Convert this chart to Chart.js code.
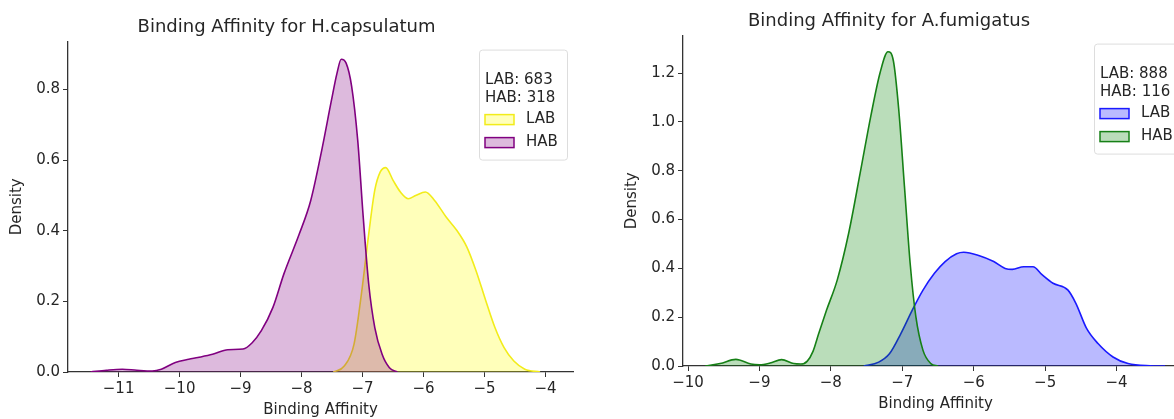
<!DOCTYPE html>
<html>
<head>
<meta charset="utf-8">
<script src="https://cdn.jsdelivr.net/npm/chart.js@4.4.1/dist/chart.umd.min.js"></script>
<style>
html, body {
    margin: 0;
    padding: 0;
    background: #fff;
    overflow: hidden;
    width: 1174px;
    height: 419px;
}
.box {
    position: absolute;
    top: 0;
    height: 419px;
}
#leftBox { left: 0; width: 590px; }
#rightBox { left: 590px; width: 610px; }
</style>
</head>
<body>

<div class="box" id="leftBox"><canvas id="leftChart"></canvas></div>
<div class="box" id="rightBox"><canvas id="rightChart"></canvas></div>

<script>
// ======================
// DATA
// ======================

// H.capsulatum - HAB (purple)
const hcapHabX = [-11.46, -11.2, -10.94, -10.7, -10.45, -10.3, -10.07, -9.85, -9.7, -9.46, -9.21, -8.96, -8.81, -8.66, -8.47, -8.29, -8.04, -7.85, -7.67, -7.51, -7.42, -7.35, -7.27, -7.18, -7.08, -6.99, -6.90, -6.80, -6.68, -6.56, -6.43];
const hcapHabY = [0.0, 0.005, 0.008, 0.005, 0.003, 0.008, 0.027, 0.036, 0.041, 0.05, 0.063, 0.065, 0.083, 0.117, 0.183, 0.278, 0.39, 0.486, 0.628, 0.77, 0.846, 0.886, 0.875, 0.81, 0.657, 0.44, 0.25, 0.126, 0.05, 0.012, 0.0];

// H.capsulatum - LAB (yellow)
const hcapLabX = [-7.48, -7.30, -7.14, -7.02, -6.90, -6.80, -6.71, -6.62, -6.50, -6.38, -6.25, -6.13, -5.97, -5.82, -5.63, -5.45, -5.29, -5.14, -4.98, -4.83, -4.68, -4.52, -4.34, -4.09];
const hcapLabY = [0.0, 0.017, 0.079, 0.22, 0.39, 0.515, 0.567, 0.579, 0.543, 0.51, 0.491, 0.50, 0.51, 0.486, 0.439, 0.40, 0.354, 0.287, 0.202, 0.126, 0.069, 0.031, 0.008, 0.0];

// A.fumigatus - HAB (green)
const afumHabX = [-9.76, -9.55, -9.33, -9.12, -9.0, -8.85, -8.69, -8.52, -8.42, -8.33, -8.25, -8.17, -8.06, -7.91, -7.75, -7.59, -7.44, -7.31, -7.20, -7.125, -7.05, -6.97, -6.89, -6.81, -6.71, -6.60, -6.50];
const afumHabY = [0.0, 0.01, 0.027, 0.008, 0.005, 0.012, 0.026, 0.01, 0.008, 0.02, 0.06, 0.133, 0.229, 0.353, 0.545, 0.79, 1.025, 1.203, 1.288, 1.251, 1.052, 0.737, 0.421, 0.202, 0.064, 0.01, 0.0];

// A.fumigatus - LAB (blue)
const afumLabX = [-7.54, -7.33, -7.18, -7.02, -6.86, -6.71, -6.55, -6.40, -6.24, -6.14, -5.93, -5.72, -5.56, -5.46, -5.30, -5.17, -5.04, -4.89, -4.68, -4.57, -4.42, -4.26, -4.05, -3.84, -3.53, -3.32];
const afumLabY = [0.0, 0.016, 0.05, 0.133, 0.229, 0.311, 0.38, 0.428, 0.46, 0.466, 0.453, 0.428, 0.40, 0.396, 0.407, 0.407, 0.373, 0.339, 0.311, 0.257, 0.154, 0.092, 0.037, 0.01, 0.001, 0.0];

// ticks
const leftXTicks = [-11, -10, -9, -8, -7, -6, -5, -4];
const leftYTicks = [0, 0.2, 0.4, 0.6, 0.8];
const rightXTicks = [-10, -9, -8, -7, -6, -5, -4];
const rightYTicks = [0, 0.2, 0.4, 0.6, 0.8, 1.0, 1.2];

// legend texts
const leftCounts = ["LAB: 683", "HAB: 318"];
const rightCounts = ["LAB: 888", "HAB: 116"];

// ======================
// HELPERS
// ======================

const FONT = "'DejaVu Sans', sans-serif";
const TEXT = "#262626";
const AXIS = "#333333";

function toPoints(xs, ys) {
    return xs.map((x, i) => ({ x: x, y: ys[i] }));
}

function tickLabel(v, decimals) {
    const s = Math.abs(v).toFixed(decimals);
    return (v < 0 ? "\u2212" : "") + s;
}

function kdeSet(label, xs, ys, line, fill, order) {
    return {
        label: label,
        data: toPoints(xs, ys),
        borderColor: line,
        backgroundColor: fill,
        borderWidth: 1.6,
        fill: "origin",
        pointRadius: 0,
        cubicInterpolationMode: "monotone",
        order: order
    };
}

// custom box legend, matplotlib style
const boxLegend = {
    id: "boxLegend",
    afterDraw(chart, args, opts) {
        const ctx = chart.ctx;
        const area = chart.chartArea;
        const w = 88, h = 110;
        const x = area.right - 6 - w;
        const y = area.top + 8;

        ctx.save();
        ctx.fillStyle = "rgba(255,255,255,0.85)";
        ctx.strokeStyle = "#dddddd";
        ctx.lineWidth = 1;
        ctx.beginPath();
        ctx.roundRect(x + 0.5, y + 0.5, w, h, 3);
        ctx.fill();
        ctx.stroke();

        ctx.font = "15px " + FONT;
        ctx.fillStyle = TEXT;
        ctx.textBaseline = "middle";
        ctx.fillText(opts.lines[0], x + 6, y + 31);
        ctx.fillText(opts.lines[1], x + 6, y + 49);

        opts.items.forEach((it, i) => {
            const cy = y + 70 + i * 23;
            ctx.fillStyle = it.fill;
            ctx.strokeStyle = it.line;
            ctx.lineWidth = 1.5;
            ctx.fillRect(x + 6, cy - 5, 29, 10);
            ctx.strokeRect(x + 6, cy - 5, 29, 10);
            ctx.fillStyle = TEXT;
            ctx.fillText(it.label, x + 47, cy);
        });
        ctx.restore();
    }
};

function axisOpts(min, max, ticks, decimals, title, fixed, titlePad) {
    return {
        type: "linear",
        min: min,
        max: max,
        afterBuildTicks: (scale) => {
            scale.ticks = ticks.map(v => ({ value: v }));
        },
        afterFit: (scale) => {
            if (fixed.width !== undefined) scale.width = fixed.width;
            if (fixed.height !== undefined) scale.height = fixed.height;
        },
        grid: {
            drawOnChartArea: false,
            drawTicks: true,
            tickLength: 5,
            color: AXIS
        },
        border: {
            display: true,
            color: AXIS,
            width: 1.3
        },
        ticks: {
            color: TEXT,
            padding: 3,
            font: { family: FONT, size: 15 },
            callback: (v) => tickLabel(v, decimals),
            maxRotation: 0
        },
        title: {
            display: true,
            text: title,
            color: TEXT,
            font: { family: FONT, size: 15 },
            padding: titlePad
        }
    };
}

Chart.defaults.animation = false;

// ======================
// LEFT CHART
// ======================

new Chart(document.getElementById("leftChart"), {
    type: "line",
    data: {
        datasets: [
            kdeSet("LAB", hcapLabX, hcapLabY, "#f2ec1a", "rgba(255,255,0,0.27)", 1),
            kdeSet("HAB", hcapHabX, hcapHabY, "#800080", "rgba(128,0,128,0.27)", 0)
        ]
    },
    options: {
        responsive: true,
        maintainAspectRatio: false,
        layout: { padding: { left: 0, right: 17, top: 0, bottom: 0 } },
        plugins: {
            legend: { display: false },
            tooltip: { enabled: false },
            title: {
                display: true,
                text: "Binding Affinity for H.capsulatum",
                color: TEXT,
                font: { family: FONT, size: 18, weight: "normal" },
                padding: { top: 17, bottom: 3 }
            },
            boxLegend: {
                lines: leftCounts,
                items: [
                    { label: "LAB", line: "#f2ec1a", fill: "rgba(255,255,0,0.27)" },
                    { label: "HAB", line: "#800080", fill: "rgba(128,0,128,0.27)" }
                ]
            }
        },
        scales: {
            x: axisOpts(-11.83, -3.55, leftXTicks, 0, "Binding Affinity", { height: 47 }, { top: 0, bottom: 0 }),
            y: axisOpts(0, 0.936, leftYTicks, 1, "Density", { width: 68 }, { top: 8, bottom: 0 })
        }
    },
    plugins: [boxLegend]
});

// ======================
// RIGHT CHART
// ======================

new Chart(document.getElementById("rightChart"), {
    type: "line",
    data: {
        datasets: [
            kdeSet("LAB", afumLabX, afumLabY, "#1a1aff", "rgba(0,0,255,0.27)", 1),
            kdeSet("HAB", afumHabX, afumHabY, "#168016", "rgba(0,128,0,0.27)", 0)
        ]
    },
    options: {
        responsive: true,
        maintainAspectRatio: false,
        layout: { padding: { left: 0, right: 12, top: 0, bottom: 0 } },
        plugins: {
            legend: { display: false },
            tooltip: { enabled: false },
            title: {
                display: true,
                text: "Binding Affinity for A.fumigatus",
                color: TEXT,
                font: { family: FONT, size: 18, weight: "normal" },
                padding: { top: 11, bottom: 3 }
            },
            boxLegend: {
                lines: rightCounts,
                items: [
                    { label: "LAB", line: "#1a1aff", fill: "rgba(0,0,255,0.27)" },
                    { label: "HAB", line: "#168016", fill: "rgba(0,128,0,0.27)" }
                ]
            }
        },
        scales: {
            x: axisOpts(-10.07, -3.0, rightXTicks, 0, "Binding Affinity", { height: 53 }, { top: 0, bottom: 6 }),
            y: axisOpts(0, 1.354, rightYTicks, 1, "Density", { width: 93 }, { top: 33, bottom: 0 })
        }
    },
    plugins: [boxLegend]
});
</script>
</body>
</html>
